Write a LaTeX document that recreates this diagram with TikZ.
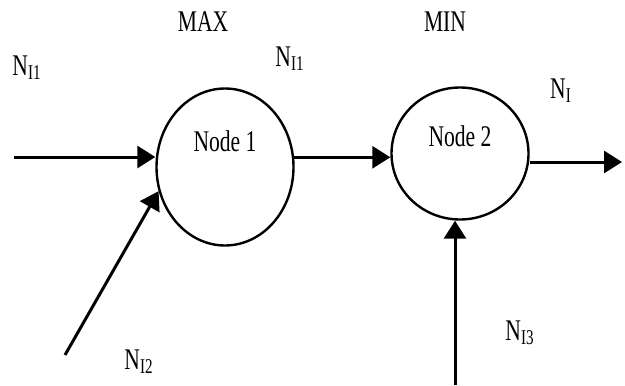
\documentclass[tikz,border=0pt]{standalone}
\usepackage{fontspec}
\setmainfont{Liberation Serif}[FakeStretch=0.72]
\usetikzlibrary{arrows.meta,shapes.geometric,positioning}
\tikzset{
	blob/.style={draw,ellipse,line width=1.2pt,inner sep=0pt,minimum width=68.5pt},
	flow/.style={-{Triangle[length=9pt,width=11pt]},line width=1.5pt},
}
\begin{document}
\begin{tikzpicture}[x=0.5pt,y=-0.5pt,font=\fontsize{15}{17}\selectfont]
	\useasboundingbox (0,0) rectangle (625,385);
	\node[blob,minimum height=78.5pt,label={[yshift=13pt]center:Node 1}](n1) at (225,167){};
	\node[blob,minimum height=66pt,label={[yshift=8.5pt]center:Node 2}](n2) at (460,153.5){};
	\node (max) at (203,22) {MAX};
	\node (min) at (445,22) {MIN};
	\node (ni1) at (27,68) {N\textsubscript{I1}};
	\node (no1) at (290,59) {N\textsubscript{I1}};
	\node (ni2) at (139,362) {N\textsubscript{I2}};
	\node (ni3) at (520,333) {N\textsubscript{I3}};
	\node (no) at (561,91) {N\textsubscript{I}};
	\coordinate (in1) at (14,157);
	\coordinate (in2) at (65,355);
	\coordinate (in3) at (455,385);
	\coordinate (out) at (622,162);
	\draw[flow] (in1) -- (in1 -| n1.west);
	\draw[flow] (in2) -- (n1.200);
	\draw[flow] (n1.8) -- (n1.8 -| n2.west);
	\draw[flow] (in3) -- (in3 |- n2.south);
	\draw[flow] (out -| n2.east) -- (out);
\end{tikzpicture}
\end{document}
